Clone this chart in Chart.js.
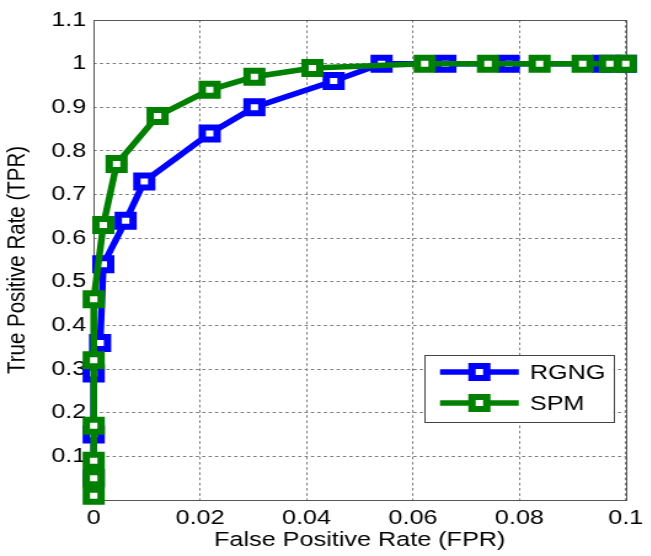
<!DOCTYPE html>
<html>
<head>
<meta charset="utf-8">
<script src="https://cdn.jsdelivr.net/npm/chart.js@4"></script>
<style>
  html, body { margin: 0; padding: 0; background: #fff; overflow: hidden; }
  /* 원본 그림의 가로 비율을 맞추기 위해 가로로만 늘림 */
  #wrap { width: 529px; height: 556px; transform: scaleX(1.23); transform-origin: 0 0; }
</style>
</head>
<body>
<div id="wrap"><canvas id="roc"></canvas></div>
<script>
// RGNG 곡선 (FPR, TPR)
const rgngFpr = [0, 0, 0, 0.0012, 0.0018, 0.006, 0.0095, 0.0218, 0.0302, 0.0451, 0.0541, 0.0661, 0.078, 0.0957, 0.1];
const rgngTpr = [0.05, 0.15, 0.29, 0.36, 0.54, 0.64, 0.73, 0.84, 0.90, 0.96, 1, 1, 1, 1, 1];

// SPM 곡선 (FPR, TPR)
const spmFpr = [0, 0, 0, 0, 0, 0, 0.0018, 0.0043, 0.012, 0.0218, 0.0302, 0.0411, 0.0622, 0.0741, 0.0838, 0.0919, 0.097, 0.1];
const spmTpr = [0.01, 0.05, 0.09, 0.17, 0.32, 0.46, 0.63, 0.77, 0.88, 0.94, 0.97, 0.99, 1, 1, 1, 1, 1, 1];

// 축 눈금
const xTicks = [0, 0.02, 0.04, 0.06, 0.08, 0.1];
const xTickLabels = ['0', '0.02', '0.04', '0.06', '0.08', '0.1'];
const yTicks = [0, 0.1, 0.2, 0.3, 0.4, 0.5, 0.6, 0.7, 0.8, 0.9, 1, 1.1];
const yTickLabels = ['', '0.1', '0.2', '0.3', '0.4', '0.5', '0.6', '0.7', '0.8', '0.9', '1', '1.1'];

const seriesNames = ['RGNG', 'SPM'];
const seriesColors = ['#0000ff', '#008000'];

const FONT = "'Liberation Sans', Arial, sans-serif";
const FONT_SIZE = 20.5;

function toPoints(xs, ys) {
  return xs.map((x, i) => ({ x: x, y: ys[i] }));
}

/**
 * 플롯 영역 테두리 (위/오른쪽 포함)
 */
const frameBox = {
  id: 'frameBox',
  beforeDatasetsDraw(chart) {
    const { ctx, chartArea: a } = chart;
    ctx.save();
    ctx.strokeStyle = '#555';
    ctx.lineWidth = 1;
    ctx.strokeRect(Math.round(a.left) + 0.5, Math.round(a.top) + 0.5,
      Math.round(a.right - a.left), Math.round(a.bottom - a.top));
    ctx.restore();
  }
};

/**
 * 플롯 안쪽 오른쪽 아래에 범례 그리기
 */
const insideLegend = {
  id: 'insideLegend',
  afterDraw(chart) {
    const { ctx, chartArea: a } = chart;
    const w = 154, h = 67;
    const x0 = a.right - 10 - w;
    const y0 = a.bottom - 78 - h;

    ctx.save();
    ctx.fillStyle = '#fff';
    ctx.fillRect(x0, y0, w, h);
    ctx.strokeStyle = '#444';
    ctx.lineWidth = 1;
    ctx.strokeRect(Math.round(x0) + 0.5, Math.round(y0) + 0.5, Math.round(w), Math.round(h));

    chart.data.datasets.forEach((ds, i) => {
      const y = y0 + 17 + i * 31;
      ctx.strokeStyle = ds.borderColor;
      ctx.lineWidth = 5.5;
      ctx.beginPath();
      ctx.moveTo(x0 + 13, y);
      ctx.lineTo(x0 + 77, y);
      ctx.stroke();

      // 마커
      ctx.fillStyle = '#fff';
      ctx.lineWidth = 6;
      ctx.beginPath();
      ctx.rect(x0 + 45 - 6, y - 6, 12, 12);
      ctx.fill();
      ctx.stroke();

      ctx.fillStyle = '#000';
      ctx.font = FONT_SIZE + 'px ' + FONT;
      ctx.textBaseline = 'middle';
      ctx.textAlign = 'left';
      ctx.fillText(ds.label, x0 + 86, y + 1);
    });
    ctx.restore();
  }
};

const datasets = [
  { label: seriesNames[0], data: toPoints(rgngFpr, rgngTpr), order: 2 },
  { label: seriesNames[1], data: toPoints(spmFpr, spmTpr), order: 1 }
].map((ds, i) => Object.assign(ds, {
  borderColor: seriesColors[i],
  backgroundColor: seriesColors[i],
  borderWidth: 5.5,
  pointStyle: 'rect',
  pointRadius: 8.5,
  pointBorderWidth: 6,
  pointBorderColor: seriesColors[i],
  pointBackgroundColor: '#fff',
  tension: 0,
  clip: false
}));

const gridStyle = {
  color: '#7a7a7a',
  lineWidth: 1,
  drawTicks: false
};

new Chart(document.getElementById('roc'), {
  type: 'line',
  data: { datasets: datasets },
  options: {
    responsive: true,
    maintainAspectRatio: false,
    animation: false,
    devicePixelRatio: 1,
    layout: { padding: { top: 20, right: 13.6, left: 0, bottom: 0 } },
    plugins: {
      legend: { display: false },
      tooltip: { enabled: false }
    },
    scales: {
      x: {
        type: 'linear',
        min: 0,
        max: 0.1,
        grid: gridStyle,
        border: { display: false, dash: [2.6, 2.6] },
        afterBuildTicks: (scale) => { scale.ticks = xTicks.map(v => ({ value: v })); },
        afterFit: (scale) => { scale.height = 56; },
        ticks: {
          padding: 6,
          color: '#000',
          font: { family: FONT, size: FONT_SIZE },
          maxRotation: 0,
          callback: (v, i) => xTickLabels[i]
        },
        title: {
          display: true,
          text: 'False Positive Rate (FPR)',
          color: '#000',
          font: { family: FONT, size: FONT_SIZE },
          padding: { top: 0, bottom: 3 }
        }
      },
      y: {
        type: 'linear',
        min: 0,
        max: 1.1,
        grid: gridStyle,
        border: { display: false, dash: [2.6, 2.6] },
        afterBuildTicks: (scale) => { scale.ticks = yTicks.map(v => ({ value: v })); },
        afterFit: (scale) => { scale.width = 76.2; },
        ticks: {
          padding: 6,
          color: '#000',
          font: { family: FONT, size: FONT_SIZE },
          callback: (v, i) => yTickLabels[i]
        },
        title: {
          display: true,
          text: 'True Positive Rate (TPR)',
          color: '#000',
          font: { family: FONT, size: FONT_SIZE },
          padding: { top: 2.5, bottom: 0 }
        }
      }
    }
  },
  plugins: [frameBox, insideLegend]
});
</script>
</body>
</html>
